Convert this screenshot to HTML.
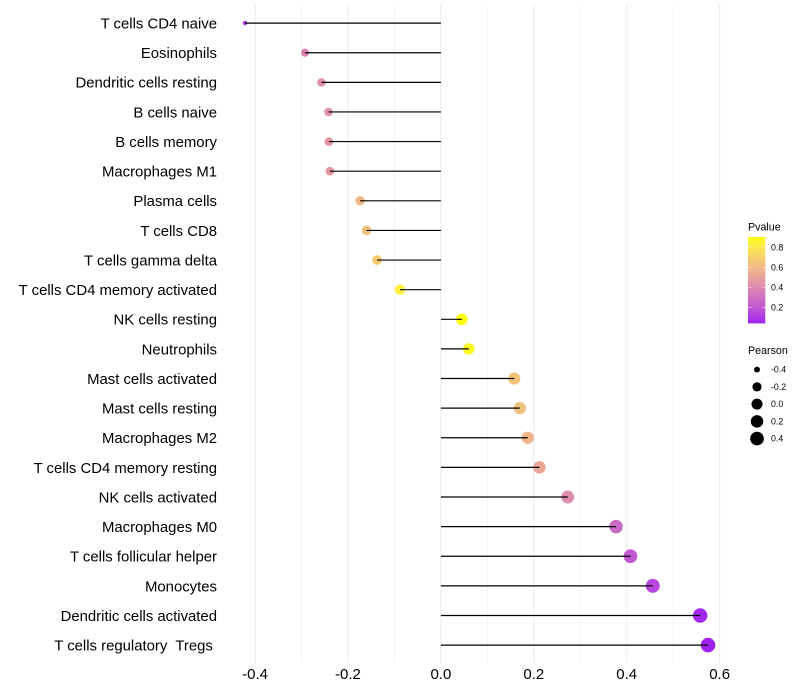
<!DOCTYPE html>
<html lang="en">
<head>
<meta charset="utf-8">
<title>Pearson lollipop chart</title>
<style>
html,body{margin:0;padding:0;background:#fff;width:800px;height:700px;overflow:hidden}
svg{display:block}
text{font-family:"Liberation Sans",Arial,sans-serif}
</style>
</head>
<body>
<svg id="chart" xmlns="http://www.w3.org/2000/svg" width="800" height="700" viewBox="0 0 800 700">
  <defs>
    <linearGradient id="pvalue-gradient" x1="0" y1="1" x2="0" y2="0"></linearGradient>
  </defs>
  <g id="grid"></g>
  <g id="segments"></g>
  <g id="yaxis"></g>
  <g id="xaxis"></g>
  <g id="legend-p">
    <text x="748" y="230.5" font-size="10.7" fill="#000">Pvalue</text>
    <rect x="748" y="237" width="17.3" height="86.4" fill="url(#pvalue-gradient)"></rect>
  </g>
  <g id="legend-s">
    <text x="748" y="354" font-size="10.7" fill="#000">Pearson</text>
  </g>
</svg>
<script>
const categories = ["T cells CD4 naive","Eosinophils","Dendritic cells resting","B cells naive","B cells memory","Macrophages M1","Plasma cells","T cells CD8","T cells gamma delta","T cells CD4 memory activated","NK cells resting","Neutrophils","Mast cells activated","Mast cells resting","Macrophages M2","T cells CD4 memory resting","NK cells activated","Macrophages M0","T cells follicular helper","Monocytes","Dendritic cells activated","T cells regulatory  Tregs "];
const pearson = [-0.4216,-0.2925,-0.257,-0.242,-0.241,-0.239,-0.174,-0.160,-0.1375,-0.088,0.045,0.060,0.158,0.170,0.187,0.212,0.273,0.377,0.408,0.456,0.558,0.575];
const pvalue = [0.09,0.37,0.43,0.45,0.45,0.46,0.60,0.63,0.68,0.84,0.90,0.88,0.64,0.63,0.58,0.53,0.41,0.27,0.21,0.15,0.06,0.045];
const xMajorTicks = [-0.4,-0.2,0.0,0.2,0.4,0.6];
const xMinorTicks = [-0.3,-0.1,0.1,0.3,0.5];
const pvalueTicks = [0.2,0.4,0.6,0.8];
const pearsonTicks = [-0.4,-0.2,0.0,0.2,0.4];
const pvalueDomain = [0.045,0.90];

const NS = "http://www.w3.org/2000/svg";
const panelTop = 5, panelBottom = 663;
function xPos(v){ return 440.9 + v * 464.6; }
function yPos(i){ return 23.1 + i * (645.1 - 23.1) / (categories.length - 1); }
function radius(v){
  const lo = Math.min(...pearson), hi = Math.max(...pearson);
  const t = Math.max(0, (v - lo) / (hi - lo));
  return 2.2 + 5.1 * Math.sqrt(t);
}
function pvalueY(p){ return 307.5 - (p - 0.2) * 100.5; }

function rgb2lab(c){
  const f = c.map(function(v){ v /= 255; return v > 0.04045 ? Math.pow((v + 0.055) / 1.055, 2.4) : v / 12.92; });
  const X = (0.4124564*f[0] + 0.3575761*f[1] + 0.1804375*f[2]) / 0.95047;
  const Y = 0.2126729*f[0] + 0.7151522*f[1] + 0.0721750*f[2];
  const Z = (0.0193339*f[0] + 0.1191920*f[1] + 0.9503041*f[2]) / 1.08883;
  const g = function(t){ return t > 0.008856 ? Math.cbrt(t) : 7.787*t + 16/116; };
  return [116*g(Y) - 16, 500*(g(X) - g(Y)), 200*(g(Y) - g(Z))];
}
function lab2rgb(l){
  const fy = (l[0] + 16) / 116, fx = fy + l[1] / 500, fz = fy - l[2] / 200;
  const g = function(t){ return t*t*t > 0.008856 ? t*t*t : (t - 16/116) / 7.787; };
  const X = g(fx)*0.95047, Y = g(fy), Z = g(fz)*1.08883;
  const r = [3.2404542*X - 1.5371385*Y - 0.4985314*Z, -0.9692660*X + 1.8760108*Y + 0.0415560*Z, 0.0556434*X - 0.2040259*Y + 1.0572252*Z];
  return r.map(function(v){
    v = v > 0.0031308 ? 1.055*Math.pow(v, 1/2.4) - 0.055 : 12.92*v;
    return Math.round(Math.min(1, Math.max(0, v)) * 255);
  });
}
const labLow = rgb2lab([160,32,240]), labHigh = rgb2lab([255,255,0]);
function colorOf(p){
  const t = Math.min(1, Math.max(0, (p - pvalueDomain[0]) / (pvalueDomain[1] - pvalueDomain[0])));
  const c = lab2rgb(labLow.map(function(v, k){ return v + (labHigh[k] - v) * t; }));
  return "rgb(" + c.join(",") + ")";
}
function make(tag, attrs, parent, txt){
  const el = document.createElementNS(NS, tag);
  Object.keys(attrs).forEach(function(k){ el.setAttribute(k, attrs[k]); });
  if (txt !== undefined) { el.textContent = txt; }
  parent.appendChild(el);
  return el;
}

const gridG = document.getElementById("grid");
xMinorTicks.forEach(function(t){
  const el = make("line", {x1:xPos(t), x2:xPos(t), y1:panelTop, y2:panelBottom, stroke:"#ebebeb", "stroke-width":0.55}, gridG);
  
  
});
xMajorTicks.forEach(function(t){
  const el = make("line", {x1:xPos(t), x2:xPos(t), y1:panelTop, y2:panelBottom, stroke:"#ebebeb", "stroke-width":1.07}, gridG);
  
  
});

const xaxisG = document.getElementById("xaxis");
xMajorTicks.forEach(function(t){
  const el = make("text", {x:xPos(t), y:679, "text-anchor":"middle", "font-size":15, fill:"#000"}, xaxisG, t.toFixed(1));
  
  
});

const yaxisG = document.getElementById("yaxis");
const segG = document.getElementById("segments");
categories.forEach(function(name, i){
  const label = make("text", {x:217, y:yPos(i) + 5.4, "text-anchor":"end", "font-size":14.9, fill:"#000", style:"white-space:pre"}, yaxisG, name);
  
  

  const dot = make("circle", {cx:xPos(pearson[i]), cy:yPos(i), r:radius(pearson[i]), fill:colorOf(pvalue[i])}, segG);
  
  

  const seg = make("line", {x1:xPos(0), x2:xPos(pearson[i]), y1:yPos(i), y2:yPos(i), stroke:"#000", "stroke-width":1.2}, segG);
  
  
});

const grad = document.getElementById("pvalue-gradient");
for (let s = 0; s <= 20; s++) {
  const t = s / 20;
  make("stop", {offset:t, "stop-color":colorOf(pvalueDomain[0] + t * (pvalueDomain[1] - pvalueDomain[0]))}, grad);
}

const legP = document.getElementById("legend-p");
pvalueTicks.forEach(function(p){
  const y = pvalueY(p);
  const a = make("line", {x1:748, x2:751.5, y1:y, y2:y, stroke:"#fff", "stroke-width":0.6, "stroke-opacity":0.8}, legP);
  
  
  const b = make("line", {x1:761.8, x2:765.3, y1:y, y2:y, stroke:"#fff", "stroke-width":0.6, "stroke-opacity":0.8}, legP);
  
  
  const l = make("text", {x:771, y:y + 3.1, "font-size":8.8, fill:"#000"}, legP, p.toFixed(1));
  
  
});

const legS = document.getElementById("legend-s");
pearsonTicks.forEach(function(v, i){
  const y = 369.6 + i * 17.25;
  const c = make("circle", {cx:757, cy:y, r:radius(v), fill:"#000"}, legS);
  
  
  const l = make("text", {x:771, y:y + 3.1, "font-size":8.8, fill:"#000"}, legS, v.toFixed(1));
  
  
});
</script>
</body>
</html>
